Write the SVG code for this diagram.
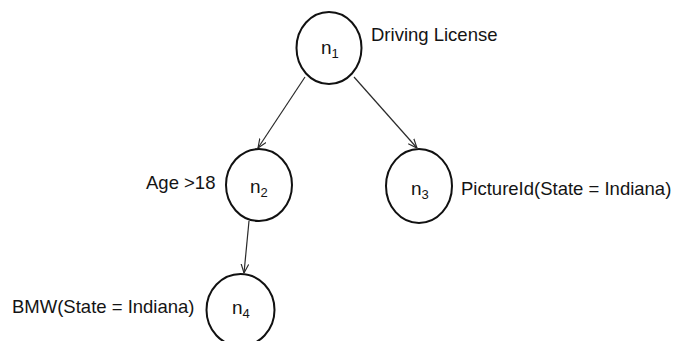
<svg xmlns="http://www.w3.org/2000/svg" width="675" height="341" viewBox="0 0 675 341">
  <style>
    .node { fill: #ffffff; stroke: #111111; stroke-width: 2; }
    .edge { fill: none; stroke: #2a2a2a; stroke-width: 1.2; marker-end: url(#arrow); }
    .lbl { font-family: "Liberation Sans", Arial, sans-serif; font-size: 18.5px; fill: #141414; }
    .nm { font-family: "Liberation Sans", Arial, sans-serif; font-size: 19px; fill: #141414; }
    .sub { font-size: 13px; }
  </style>
  <defs>
    <marker id="arrow" viewBox="0 0 10 10" refX="10" refY="5" markerWidth="9" markerHeight="9" markerUnits="userSpaceOnUse" orient="auto">
      <path d="M0,0.8 L10,5 L0,9.2" fill="none" stroke="#2a2a2a" stroke-width="1.3"/>
    </marker>
  </defs>
  <rect width="675" height="341" fill="#ffffff"/>

  <!-- parent-to-child edges -->
  <g id="connectors">
    <line class="edge" x1="305" y1="77" x2="258" y2="148"/>
    <line class="edge" x1="354" y1="77" x2="417" y2="148"/>
    <line class="edge" x1="249" y1="221" x2="244" y2="273"/>
  </g>

  <g id="n1">
    <ellipse class="node" cx="329" cy="48" rx="32.5" ry="36"/>
    <text class="nm" x="321" y="54">n<tspan class="sub" dy="4">1</tspan></text>
    <text class="lbl" x="371" y="41">Driving License</text>
  </g>

  <g id="n2">
    <ellipse class="node" cx="259" cy="185" rx="33" ry="36"/>
    <text class="nm" x="250" y="193">n<tspan class="sub" dy="4">2</tspan></text>
    <text class="lbl" x="146" y="189">Age &gt;18</text>
  </g>

  <g id="n3">
    <ellipse class="node" cx="419" cy="186" rx="33" ry="37"/>
    <text class="nm" x="411" y="195">n<tspan class="sub" dy="4">3</tspan></text>
    <text class="lbl" x="461" y="195">PictureId(State = Indiana)</text>
  </g>

  <g id="n4">
    <ellipse class="node" cx="240.5" cy="310" rx="34" ry="36"/>
    <text class="nm" x="232" y="314">n<tspan class="sub" dy="4">4</tspan></text>
    <text class="lbl" x="12" y="313">BMW(State = Indiana)</text>
  </g>
</svg>
